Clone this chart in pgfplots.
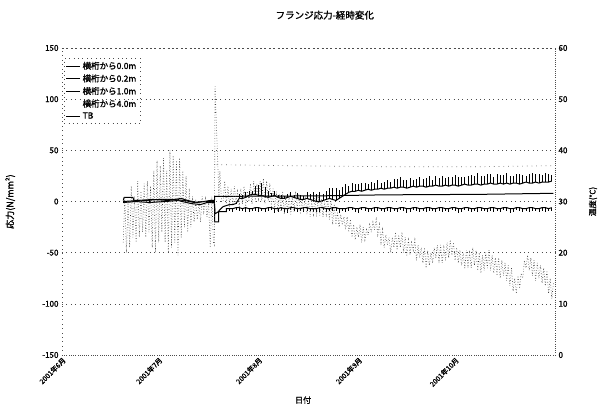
\documentclass[border=0pt]{standalone}
\usepackage{fontspec}
\setmainfont[AutoFakeBold=1.5]{Noto Sans CJK JP}
\usepackage{pgfplots}
\usepackage{pgfplotstable}
\pgfplotsset{compat=1.18}
\pgfplotstableread{
d b s
19 -1 0
23 0 1
27 -1 2
32 0 2
36 1 1
40 -2 0
43 -3 0
45 -1 0
47.3 -1 0
47.5 -12 0
48.5 -10 0
49 -8 0
50 -5 0
51 -4 0
52 -3 0
53 -3 0
54 -2 2
55 3 4
56 3 3
57 4 5
58 6 4
59 7 3
60 7 8
61 6 10
62 6 12
63 5 9
64 4 6
65 5 3
66 6 4
67 4 2
68 3 3
69 3 2
70 4 3
71 5 4
72 4 2
73 3 5
74 2 4
75 2 3
76 3 6
77 2 5
78 1 8
79 0 7
80 0 9
81 1 6
82 2 8
83 3 10
84 2 11
85 1 12
86 3 8
87 5 9
88 7 10
89 9 6
90 10 8
91 10 7
92 11 6
93 10 8
94 11 7
95 12 5
96 11 8
97 12 6
98 12 9
99 13 5
100 12 7
101 13 8
102 13 6
103 14 8
104 13 9
105 14 10
106 14 7
107 13 8
108 14 9
109 15 6
110 14 8
111 15 9
112 15 7
113 14 9
114 15 10
115 15 6
116 16 9
117 15 8
118 15 10
119 16 7
120 15 9
121 16 8
122 16 10
123 15 9
124 16 8
125 17 7
126 16 9
127 16 10
128 17 8
129 17 11
130 16 9
131 17 8
132 17 10
133 18 9
134 17 7
135 17 10
136 18 8
137 17 9
138 18 10
139 17 8
140 18 7
141 18 9
142 17 10
143 18 8
144 19 6
145 18 9
146 18 10
147 19 8
148 18 9
149 19 7
150 19 9
151 19 8
152 20 6
}\seriesB
\pgfplotstableread{
d b s
19 0 0
24 1 0
28 2 0
33 1 0
37 3 0
39 1 0
42 -1 0
46 1 0
47.3 1 0
47.4 -20 0
48.6 -20 0
48.6 -10 0
51 -10 0
51 -7 0
52 -7 2
53 -7 3
54 -6 2
55 -6 3
56 -7 2
57 -6 4
58 -7 3
59 -7 2
60 -6 3
61 -6 4
62 -7 2
63 -7 3
64 -6 3
65 -6 2
66 -7 4
67 -7 3
68 -6 2
69 -7 3
70 -7 4
71 -6 2
72 -6 3
73 -7 3
74 -7 2
75 -6 4
76 -6 3
77 -7 2
78 -7 3
79 -7 3
80 -6 4
81 -6 2
82 -7 3
83 -7 2
84 -6 3
85 -6 3
86 -7 4
87 -7 2
88 -7 3
89 -6 3
90 -6 2
91 -7 3
92 -7 4
93 -6 2
94 -6 3
95 -7 3
96 -7 2
97 -6 4
98 -6 3
99 -7 2
100 -7 3
101 -6 3
102 -6 4
103 -7 2
104 -7 3
105 -6 2
106 -6 3
107 -7 4
108 -7 3
109 -6 2
110 -6 3
111 -7 3
112 -7 2
113 -6 4
114 -6 3
115 -7 2
116 -7 3
117 -6 3
118 -6 4
119 -7 2
120 -7 3
121 -6 2
122 -6 3
123 -7 4
124 -7 3
125 -6 2
126 -6 3
127 -7 3
128 -7 2
129 -6 4
130 -6 3
131 -7 2
132 -7 3
133 -6 3
134 -6 4
135 -7 2
136 -7 3
137 -6 2
138 -6 3
139 -7 4
140 -7 3
141 -6 2
142 -6 3
143 -7 3
144 -7 2
145 -6 4
146 -6 3
147 -7 2
148 -7 3
149 -6 3
150 -6 4
151 -7 2
152 -6 3
}\seriesC
\begin{document}
\begin{tikzpicture}[font=\fontsize{8}{9}\selectfont]
\begin{axis}[
  at={(0,0)}, anchor=south west,
  scale only axis, width=493pt, height=307pt,
  xmin=0, xmax=153, ymin=-150, ymax=150,
  ytick={-150,-100,...,150},
  xtick={0,30,61,92,122},
  xticklabels={2001年6月,2001年7月,2001年8月,2001年9月,2001年10月},
  x tick label style={rotate=45, anchor=north east, inner sep=1pt, font=\fontsize{7}{8}\selectfont\bfseries},
  y tick label style={font=\fontsize{8}{9}\selectfont\bfseries},
  /pgf/number format/assume math mode=true,
  major tick length=0pt,
  ymajorgrids, grid style={black!70, loosely dotted},
  axis line style={black!70, loosely dotted},
  ylabel={応力(N/mm²)},
  every axis y label/.style={at={(axis description cs:-0.105,0.5)}, rotate=90, anchor=center, font=\fontsize{9}{10}\selectfont\bfseries},
  xlabel={日付},
  every axis x label/.style={at={(axis description cs:0.489,-0.147)}, anchor=center, font=\fontsize{8}{9}\selectfont\bfseries},
  title={フランジ応力-経時変化},
  every axis title/.style={at={(axis description cs:0.533,1.107)}, anchor=center, font=\fontsize{9.5}{11}\selectfont\bfseries},
  legend style={at={(axis description cs:0.004,0.967)}, anchor=north west, draw=black!70, loosely dotted, fill=none, font=\fontsize{8.5}{10}\selectfont\bfseries, cells={anchor=west}, inner sep=1.5pt, row sep=0pt},
  legend image code/.code={\draw[#1, solid] (0pt,0pt) -- (14pt,0pt);},
]
\addplot[black, line width=1pt] coordinates {(19,1)(19.3,4)(22,4)(22.3,1)(26,1)(30,2)(34,2)(38,1)(41,-1)(44,0)(47.3,0)(47.4,5)(80,5.5)(100,6.5)(130,7)(152.5,8)};
\addlegendentry{横桁から0.0m}
\addplot[black, line width=1pt, no marks, error bars/.cd, y dir=plus, y explicit, error mark=none, error bar style={line width=0.6pt, solid}] table[x=d, y=b, y error=s] {\seriesB};
\addlegendentry{横桁から0.2m}
\addplot[black, line width=1pt, no marks, error bars/.cd, y dir=minus, y explicit, error mark=none, error bar style={line width=0.6pt, solid}] table[x=d, y=b, y error=s] {\seriesC};
\addlegendentry{横桁から1.0m}
\addplot[black!60, loosely dotted, line width=0.7pt, forget plot] coordinates {(48,36)(70,35)(100,34)(130,34)(152.5,35)};
\addlegendimage{legend image code/.code={}}
\addlegendentry{横桁から4.0m}
\addlegendimage{black, line width=0.5pt}
\addlegendentry{TB}
\end{axis}
\begin{axis}[
  at={(0,0)}, anchor=south west,
  scale only axis, width=493pt, height=307pt,
  xmin=0, xmax=153, ymin=0, ymax=60,
  axis y line*=right, axis x line=none,
  ytick={0,10,...,60},
  y tick label style={font=\fontsize{8}{9}\selectfont\bfseries},
  /pgf/number format/assume math mode=true,
  major tick length=0pt,
  axis line style={black!70, loosely dotted},
  ylabel={温度(℃)},
  every axis y label/.style={at={(axis description cs:1.077,0.5)}, rotate=90, anchor=center, font=\fontsize{8}{9}\selectfont\bfseries},
]
\addplot[black!80, dotted, line width=0.6pt] coordinates {
(19,22)(19.5,31)(20,20)(20.5,30)(21,21)(21.5,33)(22,23)(22.5,31)(23,22)(23.5,34)(24,23)(24.5,32)(25,24)(25.5,33.5)(26,23)(26.5,34)(27,24)(27.5,33)(28,21)(28.5,36)(29,20)(29.5,38)(30,22)(30.5,37)(31,24)(31.5,38.5)(32,22)(32.5,36)(33,20)(33.5,40)(34,21)(34.5,39)(35,22)(35.5,38)(36,19.5)(36.5,38.5)(37,23)(37.5,36)(38,25)(38.5,35)(39,24)(39.5,32.5)(40,25)(40.5,31)(41,26)(41.5,30.5)(42,26.5)(42.5,30)(43,26)(43.5,31)(44,28)(44.5,30.5)(45,27)(45.5,30)(46,21)(46.5,31)(47,22)(47.3,21.5)(47.5,52.5)(48.2,40)(48.7,31)(49,36)(49.5,30)
(50,30)(50.5,34)(51,29.5)(51.5,33)(52,29)(52.5,32.5)(53,29.5)(53.5,33)(54,30)(54.5,32)(55,29)(55.5,32.5)(56,29.5)(56.5,33)(57,29)(57.5,32)(58,30)(58.5,33.5)(59,29.5)(59.5,34)(60,30)(60.5,33)(61,30.5)(61.5,34)(62,30)(62.5,34.5)(63,29.5)(63.5,34)(64,30)(64.5,33.5)(65,29)(65.5,32.5)(66,28.5)(66.5,32)(67,28)(67.5,31.5)(68,28)(68.5,32)(69,27.5)(69.5,31)(70,28)(70.5,31.5)(71,27.5)(71.5,31)(72,28)(72.5,32)(73,28.5)(73.5,31.5)(74,27.5)(74.5,30.5)(75,28)(75.5,31)(76,27.5)(76.5,30.5)(77,27)(77.5,30)(78,27.5)(78.5,31)(79,27)(79.5,31)(80,27.3)(80.5,30.5)(81,27)(81.5,30)(82,27.5)(82.5,30.5)(83,26.5)(83.5,30)(84,25.5)(84.5,29.5)(85,25.5)(85.5,28)(86,25)(86.5,27.5)(87,25.4)(87.5,27)(88,24.5)(88.5,27)(89,24)(89.5,26.5)(90,23)(90.5,25.5)(91,22.5)(91.5,25)(92,23)(92.5,25.5)(93,22)(93.5,25)(94,22.5)(94.5,24.5)(95,23.5)(95.5,25.5)(96,24)(96.5,26)(97,24.5)(97.5,26.5)(98,23.5)(98.5,25.5)(99,22)(99.5,24.5)(100,21)(100.5,23.5)
(101,21.5)(101.5,23)(102,20)(102.5,23)(103,21)(103.5,24)(104,20.5)(104.5,23.5)(105,21)(105.5,24)(106,20)(106.5,23)(107,19.5)(107.5,22.5)(108,20)(108.5,22)(109,20.5)(109.5,22.5)(110,18.5)(110.5,21.5)(111,19)(111.5,21)(112,18)(112.5,21)(113,17)(113.5,20.5)(114,17.5)(114.5,20)(115,18)(115.5,21)(116,19)(116.5,21.5)(117,18.5)(117.5,21.5)(118,18)(118.5,21)(119,18.5)(119.5,22)(120,19)(120.5,22.5)(121,19.5)(121.5,22)(122,18.5)(122.5,21)(123,18)(123.5,20.5)(124,17.5)(124.5,20)(125,17)(125.5,20.5)(126,17.5)(126.5,20)(127,17)(127.5,21)(128,17.5)(128.5,20.5)(129,16.5)(129.5,20)(130,16)(130.5,19.5)(131,16.5)(131.5,20)(132,17)(132.5,20.5)(133,16.5)(133.5,19.5)(134,16)(134.5,19)(135,15.5)(135.5,19)(136,15)(136.5,18.5)(137,15.5)(137.5,18)(138,14.5)(138.5,17.5)(139,13.5)(139.5,17)(140,12.5)(140.5,15)(141,12)(141.5,15.5)(142,13)(142.5,16)(143,15)(143.5,18.5)(144,17)(144.5,19.5)(145,16.5)(145.5,19)(146,15.5)(146.5,18.5)(147,14.5)(147.5,18)(148,15)(148.5,17.5)(149,14)(149.5,17)(150,13.5)(150.5,16.5)(151,12)(151.5,15)(152,11)(152.5,14)
};
\end{axis}
\pgfresetboundingbox
\path (-62pt,-52pt) rectangle (543pt,355pt);
\end{tikzpicture}
\end{document}
